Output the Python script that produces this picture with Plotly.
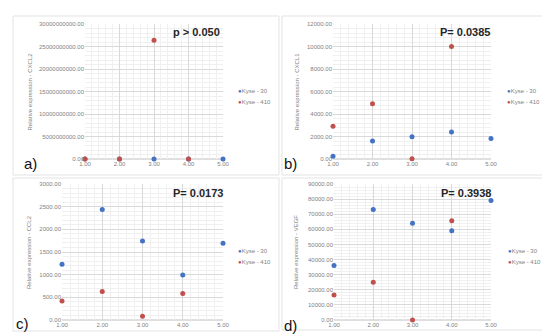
import plotly.graph_objects as go

W, H = 550, 336
x_vals = [1, 2, 3, 4, 5]
x_410 = [1, 2, 3, 4]

cxcl2_k30 = [0, 0, 0, 0, 0]
cxcl2_k410 = [0, 0, 26400000000, 0]
cxcl1_k30 = [240, 1600, 1980, 2400, 1830]
cxcl1_k410 = [2900, 4900, 30, 10000]
ccl2_k30 = [1230, 2440, 1740, 995, 1695]
ccl2_k410 = [420, 627, 81, 582]
vegf_k30 = [36000, 73200, 64100, 59000, 79000]
vegf_k410 = [16600, 25000, 0, 65700]

y_titles = ["Relative expression - CXCL2", "Relative expression - CXCL1",
            "Relative expression - CCL2", "Relative expression - VEGF"]
p_texts = ["p > 0.050", "P= 0.0385", "P= 0.0173", "P= 0.3938"]
panel_labels = ["a)", "b)", "c)", "d)"]
y_max = [30000000000, 12000, 3000, 90000]
y_dtick = [5000000000, 2000, 500, 10000]
series_names = ["Kyse - 30", "Kyse - 410"]

BLUE = "#4472C4"
RED = "#C0504D"
GREY = "#7F7F7F"
FONT = "Liberation Sans, Arial, sans-serif"

def px(x):
    return x / W

def py(y):
    return 1 - y / H

# plot areas in pixels: (x0, x1, ytop, ybottom)
areas = [(77, 215, 16, 151), (325, 483, 16, 151), (54, 215, 176, 312), (326, 483, 176, 312)]
boxes = [(5, 271, 8, 167), (274, 540, 8, 167), (5, 271, 170, 323), (274, 540, 170, 322)]
ytitle_x = [21, 288, 21, 288]
p_pos = [(188, 24), (457, 24), (190, 185), (458, 185)]
lab_pos = [(22, 155), (282, 155), (14, 315), (282, 317)]
leg_pos = [(233, 83), (502, 83), (233, 243), (503, 243)]

data = [(cxcl2_k30, cxcl2_k410), (cxcl1_k30, cxcl1_k410),
        (ccl2_k30, ccl2_k410), (vegf_k30, vegf_k410)]

fig = go.Figure()
layout = dict(width=W, height=H, margin=dict(l=0, r=0, t=0, b=0, autoexpand=False),
              paper_bgcolor="white", plot_bgcolor="white", showlegend=False,
              font=dict(family=FONT, color=GREY, size=6))
annotations = []
shapes = []
for i in range(4):
    sfx = "" if i == 0 else str(i + 1)
    xa, ya = "x" + sfx, "y" + sfx
    k30, k410 = data[i]
    fig.add_trace(go.Scatter(x=x_vals, y=k30, mode="markers", name=series_names[0],
                             marker=dict(color=BLUE, size=5), xaxis=xa, yaxis=ya,
                             cliponaxis=False))
    fig.add_trace(go.Scatter(x=x_410, y=k410, mode="markers", name=series_names[1],
                             marker=dict(color=RED, size=5), xaxis=xa, yaxis=ya,
                             cliponaxis=False))
    x0, x1, yt, yb = areas[i]
    layout["xaxis" + sfx] = dict(domain=[px(x0), px(x1)], range=[1, 5], dtick=1, tick0=1,
                                 tickformat=".2f", showgrid=True, gridcolor="#D9D9D9", gridwidth=1,
                                 minor=dict(dtick=0.2, showgrid=True, gridcolor="#F0F0F0"),
                                 zeroline=False, showline=False, ticks="", automargin=False,
                                 tickfont=dict(size=6, color=GREY), anchor=ya, fixedrange=True)
    layout["yaxis" + sfx] = dict(domain=[py(yb), py(yt)], range=[0, y_max[i]], dtick=y_dtick[i],
                                 tickformat=".2f", showgrid=True, gridcolor="#D9D9D9", gridwidth=1,
                                 minor=dict(dtick=y_dtick[i] / 5, showgrid=True, gridcolor="#F0F0F0"),
                                 zeroline=False, showline=False, ticks="", automargin=False,
                                 tickfont=dict(size=6, color=GREY), anchor=xa, fixedrange=True)
    # axis line at y=0
    shapes.append(dict(type="line", xref="x" + sfx + " domain", yref="y" + sfx + " domain",
                       x0=0, x1=1, y0=0, y1=0, line=dict(color="#BFBFBF", width=1), layer="below"))
    bx0, bx1, by0, by1 = boxes[i]
    shapes.append(dict(type="rect", xref="paper", yref="paper", x0=px(bx0), x1=px(bx1),
                       y0=py(by1), y1=py(by0), line=dict(color="#E3E3E3", width=1), layer="below"))
    annotations.append(dict(text=y_titles[i], xref="paper", yref="paper",
                            x=px(ytitle_x[i]), y=py((yt + yb) / 2), textangle=-90,
                            showarrow=False, font=dict(size=6, color=GREY),
                            xanchor="center", yanchor="middle"))
    annotations.append(dict(text="<b>" + p_texts[i] + "</b>", xref="paper", yref="paper",
                            x=px(p_pos[i][0]), y=py(p_pos[i][1]), showarrow=False,
                            font=dict(size=11, color="#262626"), xanchor="center", yanchor="middle"))
    annotations.append(dict(text=panel_labels[i], xref="paper", yref="paper",
                            x=px(lab_pos[i][0]), y=py(lab_pos[i][1]), showarrow=False,
                            font=dict(size=15, color="#111111"),
                            xanchor="center", yanchor="middle"))
    # legend entries
    lx, ly = leg_pos[i]
    for j, (nm, col) in enumerate(zip(series_names, [BLUE, RED])):
        annotations.append(dict(text="<span style='color:%s'>●</span>%s" % (col, nm),
                                xref="paper", yref="paper", x=px(lx - 4), y=py(ly + j * 11),
                                showarrow=False, font=dict(size=6, color=GREY), borderpad=0,
                                xanchor="left", yanchor="middle"))

layout["annotations"] = annotations
layout["shapes"] = shapes
fig.update_layout(**layout)
fig.write_html("out.html")
